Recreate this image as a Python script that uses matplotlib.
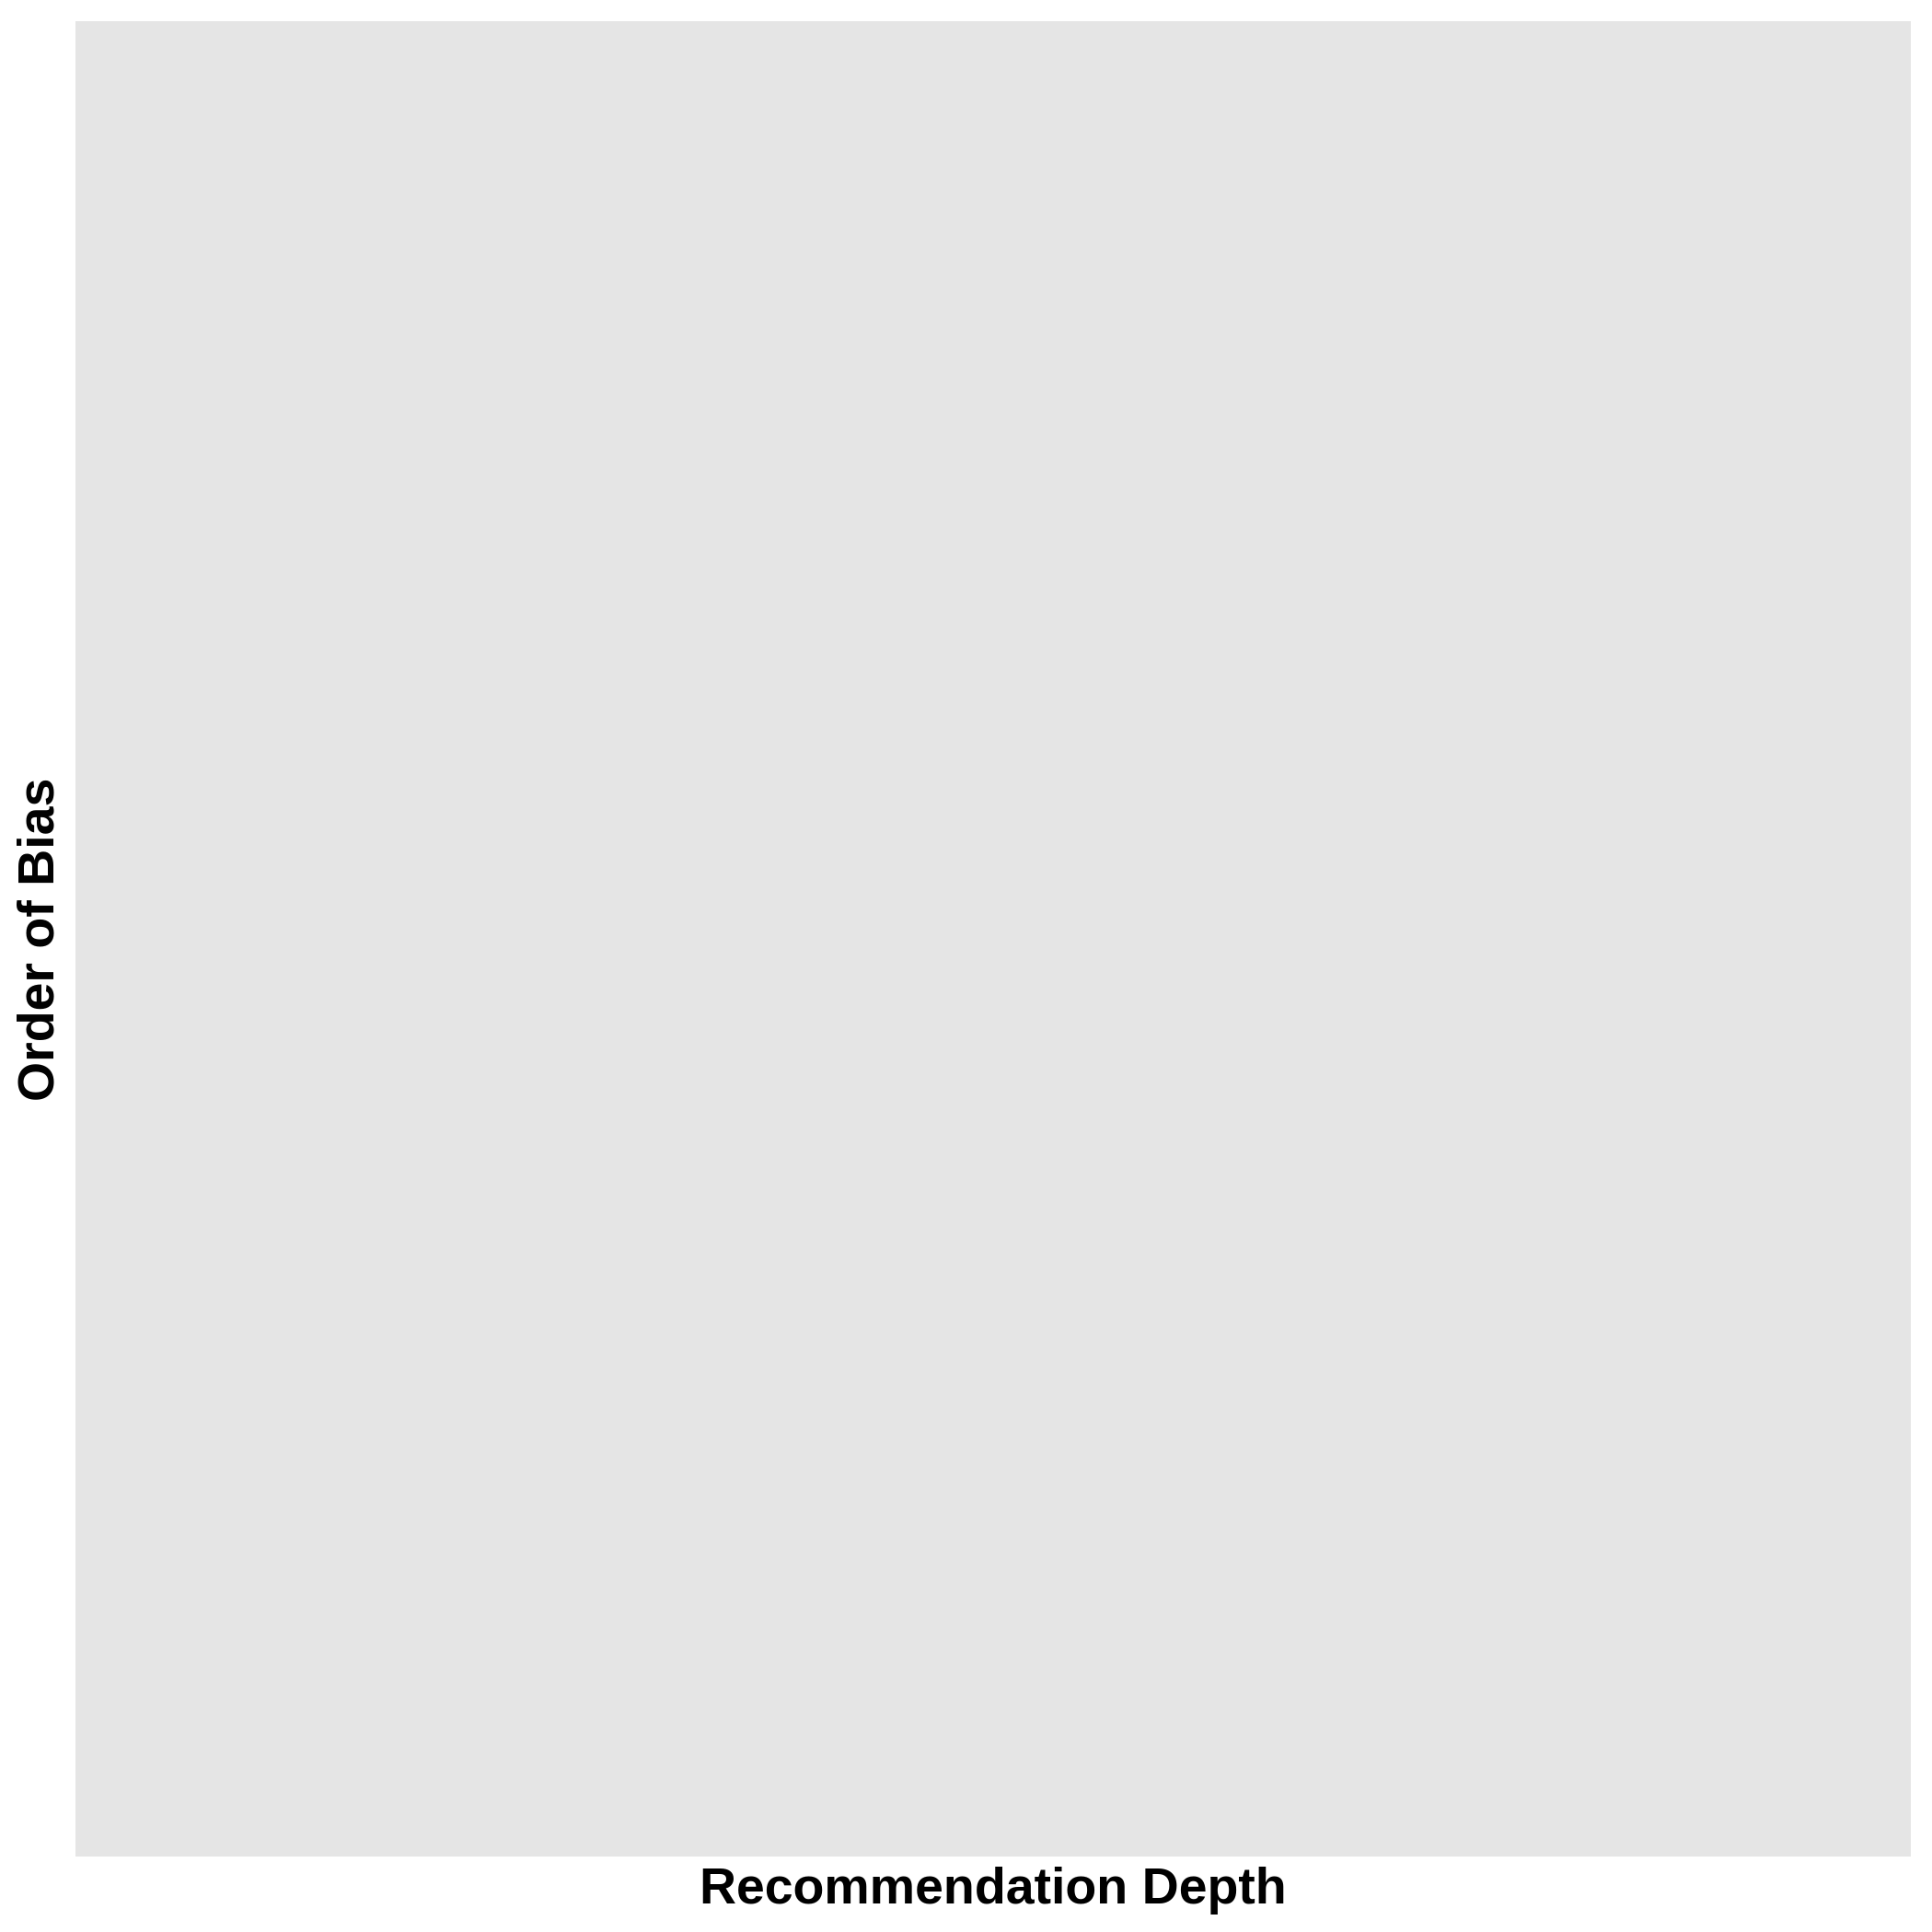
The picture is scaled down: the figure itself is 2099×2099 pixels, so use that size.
import matplotlib.pyplot as plt

# the chart has no data marks, only an empty panel
depth = []
bias = []

fig = plt.figure(figsize=(20.99, 20.99), dpi=100)
ax = fig.add_axes([0.039, 0.039, 0.950, 0.950])
ax.set_facecolor('#e5e5e5')
ax.plot(depth, bias)
for s in ax.spines.values():
    s.set_visible(False)
ax.set_xticks([])
ax.set_yticks([])
font = dict(family='Liberation Sans', fontsize=40, fontweight='bold')
ax.set_xlabel('Recommendation Depth', labelpad=8, **font)
ax.set_ylabel('Order of Bias', labelpad=8, **font)
fig.savefig('out.png', dpi=100, facecolor='white')
